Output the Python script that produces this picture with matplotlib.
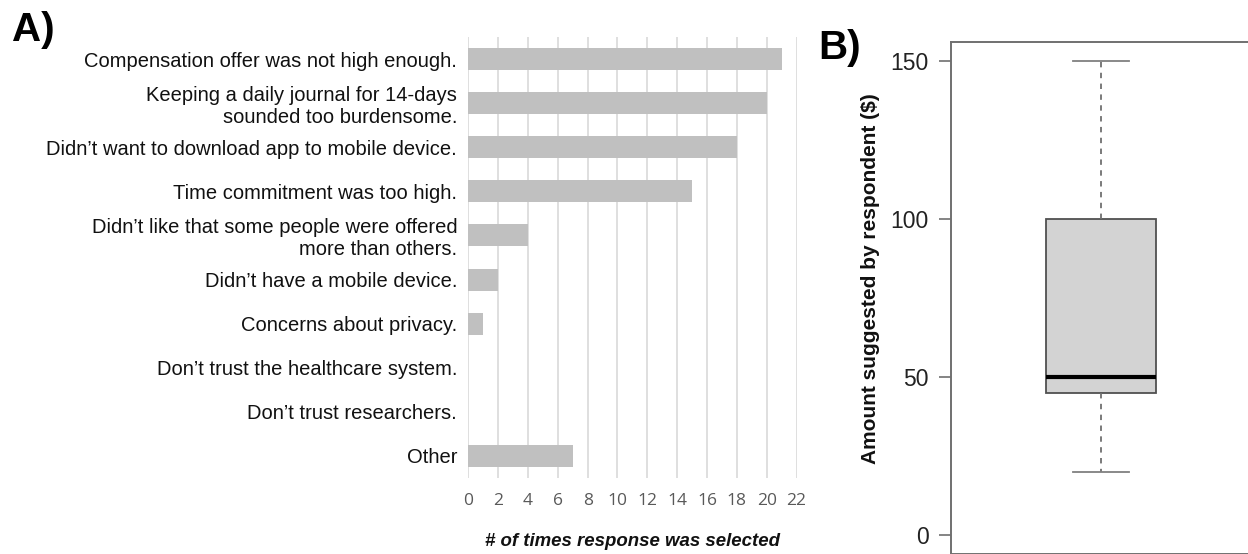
import matplotlib.pyplot as plt

plt.rcParams['font.family'] = ['Liberation Sans', 'DejaVu Sans']

# Panel A: reasons for not taking part
reasons = [
    "Compensation offer was not high enough.",
    "Keeping a daily journal for 14-days\nsounded too burdensome.",
    "Didn\u2019t want to download app to mobile device.",
    "Time commitment was too high.",
    "Didn\u2019t like that some people were offered\nmore than others.",
    "Didn\u2019t have a mobile device.",
    "Concerns about privacy.",
    "Don\u2019t trust the healthcare system.",
    "Don\u2019t trust researchers.",
    "Other",
]
counts = [21, 20, 18, 15, 4, 2, 1, 0, 0, 7]
x_ticks = list(range(0, 23, 2))

# Panel B: suggested compensation amount ($)
amount_stats = {"med": 50, "q1": 45, "q3": 100, "whislo": 20, "whishi": 150}
y_ticks = [0, 50, 100, 150]

fig = plt.figure(figsize=(12.48, 5.54), dpi=100)

# ---- A) horizontal bars
ax = fig.add_axes([0.3752, 0.1372, 0.2631, 0.796])
ypos = list(range(len(reasons)))
ax.barh(ypos, counts, height=0.5, color='#c0c0c0', zorder=2)
ax.set_ylim(len(reasons) - 0.5, -0.5)
ax.set_xlim(0, 22)
ax.set_xticks(x_ticks)
ax.set_xticklabels([str(t) for t in x_ticks], fontsize=12.5, color='#595959',
                   family=['Open Sans', 'DejaVu Sans'])
ax.tick_params(axis='x', length=0, pad=11)
ax.set_yticks(ypos)
ax.set_yticklabels(reasons, fontsize=14.5, color='#111111', linespacing=1.2)
ax.tick_params(axis='y', length=0, pad=8)
ax.grid(axis='x', color='#d9d9d9', linewidth=1.2, zorder=0)
for s in ax.spines.values():
    s.set_visible(False)
ax.set_xlabel('# of times response was selected', fontsize=13.4,
              fontweight='bold', fontstyle='italic', labelpad=17, color='#111111')

fig.text(12 / 1248, 1 - 30 / 554, 'A)', fontsize=29, fontweight='bold',
         va='center', ha='left')

# ---- B) boxplot
bx = fig.add_axes([0.762, -0.0005, 0.240, 0.9247])
bx.bxp([amount_stats], positions=[1], widths=0.367, showfliers=False,
       patch_artist=True,
       boxprops=dict(facecolor='#d3d3d3', edgecolor='#505050', linewidth=1.3),
       medianprops=dict(color='black', linewidth=3),
       whiskerprops=dict(color='#707070', linewidth=1.3, linestyle=(0, (3, 3))),
       capprops=dict(color='#808080', linewidth=1.3),
       capwidths=0.186)
bx.set_xlim(0.5, 1.5)
bx.set_ylim(-6, 156)
bx.set_xticks([])
bx.set_yticks(y_ticks)
bx.set_yticklabels([str(t) for t in y_ticks], fontsize=16.5, color='#222222')
bx.tick_params(axis='y', length=9, width=1.2, color='#707070', pad=7)
for s in bx.spines.values():
    s.set_color('#707070')
    s.set_linewidth(1.4)

fig.text(870 / 1248, 1 - 279 / 554, 'Amount suggested by respondent ($)',
         rotation=90, fontsize=15, fontweight='bold', ha='center', va='center',
         color='#111111')
fig.text(818 / 1248, 1 - 48 / 554, 'B)', fontsize=29, fontweight='bold',
         va='center', ha='left')

fig.savefig('out.png', dpi=100)
